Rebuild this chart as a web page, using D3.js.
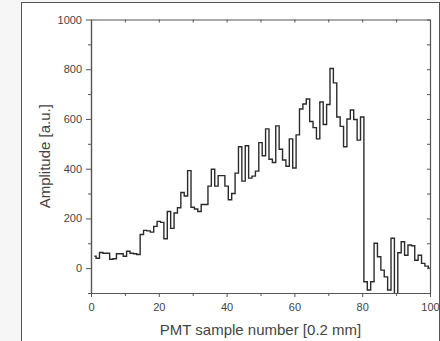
<!DOCTYPE html>
<html>
<head>
<meta charset="utf-8">
<script src="https://cdn.jsdelivr.net/npm/d3@7"></script>
<style>
  html, body { margin: 0; padding: 0; background: #f6f6f6; }
  svg { display: block; }
  text { font-family: "Liberation Sans", Arial, sans-serif; fill: #444; }
</style>
</head>
<body>
<div id="chart"></div>
<script>
// PMT amplitude per sample (samples 1..100)
const samples = d3.range(1, 101);
const amplitude = [
  48, 40, 63, 60, 60, 36, 38, 58, 58, 48,
  68, 60, 58, 55, 135, 152, 150, 145, 168, 188,
  184, 118, 228, 160, 222, 243, 304, 290, 392, 245,
  238, 228, 256, 256, 330, 398, 330, 372, 372, 330,
  275, 300, 382, 488, 350, 492, 362, 370, 390, 505,
  452, 560, 438, 425, 572, 478, 435, 410, 520, 403,
  536, 640, 660, 680, 590, 565, 520, 668, 578, 658,
  803, 745, 608, 570, 488, 600, 636, 598, 515, 608,
  -55, -88, -55, 100, 46, -8, -35, -88, 120, -130,
  62, 106, 52, 93, 90, 32, 52, 19, 8, 0
];
const xTicks = [0, 20, 40, 60, 80, 100];
const xMinor = [10, 30, 50, 70, 90];
const yTicks = [0, 200, 400, 600, 800, 1000];
const yMinor = [-100, 100, 300, 500, 700, 900];

const width = 440, height = 341;
const margin = { top: 19.5, right: 10, bottom: 48, left: 91 };

const svg = d3.select("#chart")
  .append("svg")
    .attr("width", width)
    .attr("height", height);

// white panel with frame
svg.append("rect")
  .attr("x", 21.5).attr("y", 2.5)
  .attr("width", 418).attr("height", 350)
  .attr("fill", "#fff")
  .attr("stroke", "#555")
  .attr("stroke-width", 1);

const xScale = d3.scaleLinear()
  .domain([0, 100])
  .range([margin.left, width - margin.right]);

const yScale = d3.scaleLinear()
  .domain([-100, 1000])
  .range([height - margin.bottom, margin.top]);

/*******************************/
/*    clip + step line         */
/*******************************/
svg.append("clipPath").attr("id", "plot-clip")
  .append("rect")
    .attr("x", xScale(0)).attr("y", yScale(1000))
    .attr("width", xScale(100) - xScale(0))
    .attr("height", yScale(-100) - yScale(1000));

const data = samples.map((s, i) => ({ x: s, y: amplitude[i] }));

const line = d3.line()
  .x(d => xScale(d.x))
  .y(d => yScale(d.y))
  .curve(d3.curveStep);

svg.append("path")
  .datum(data)
  .attr("clip-path", "url(#plot-clip)")
  .attr("d", line)
  .attr("fill", "none")
  .attr("stroke", "#2b2b2b")
  .attr("stroke-width", 1.4);

/*******************************/
/*    axes                     */
/*******************************/
const styleAxis = g => {
  g.selectAll(".domain").attr("stroke", "#555").attr("stroke-width", 1.2);
  g.selectAll(".tick line").attr("stroke", "#555").attr("stroke-width", 1);
  g.selectAll(".tick text").attr("fill", "#444").style("font-size", "11px");
};

// bottom
svg.append("g")
  .attr("transform", `translate(0, ${yScale(-100)})`)
  .call(d3.axisBottom(xScale).tickValues(xTicks).tickSize(4).tickSizeOuter(0).tickPadding(6).tickFormat(d3.format("d")))
  .call(styleAxis);
svg.append("g")
  .attr("transform", `translate(0, ${yScale(-100)})`)
  .call(d3.axisBottom(xScale).tickValues(xMinor).tickSize(3).tickFormat("").tickSizeOuter(0))
  .call(styleAxis);

// top (inward)
svg.append("g")
  .attr("transform", `translate(0, ${yScale(1000)})`)
  .call(d3.axisTop(xScale).tickValues(xTicks.concat(xMinor)).tickSize(-3).tickFormat("").tickSizeOuter(0))
  .call(styleAxis);

// left
svg.append("g")
  .attr("transform", `translate(${xScale(0)}, 0)`)
  .call(d3.axisLeft(yScale).tickValues(yTicks).tickSize(5).tickSizeOuter(0).tickPadding(4).tickFormat(d3.format("d")))
  .call(styleAxis);
svg.append("g")
  .attr("transform", `translate(${xScale(0)}, 0)`)
  .call(d3.axisLeft(yScale).tickValues(yMinor).tickSize(3).tickFormat("").tickSizeOuter(0))
  .call(styleAxis);

// right (inward)
svg.append("g")
  .attr("transform", `translate(${xScale(100)}, 0)`)
  .call(d3.axisRight(yScale).tickValues(yTicks.concat(yMinor)).tickSize(-3).tickFormat("").tickSizeOuter(0))
  .call(styleAxis);

/*******************************/
/*    titles                   */
/*******************************/
svg.append("text")
  .attr("x", (xScale(0) + xScale(100)) / 2)
  .attr("y", 335)
  .attr("text-anchor", "middle")
  .style("font-size", "15px")
  .text("PMT sample number [0.2 mm]");

svg.append("text")
  .attr("transform", `translate(50, ${(yScale(-100) + yScale(1000)) / 2}) rotate(-90)`)
  .attr("text-anchor", "middle")
  .style("font-size", "15px")
  .text("Amplitude [a.u.]");
</script>
</body>
</html>
